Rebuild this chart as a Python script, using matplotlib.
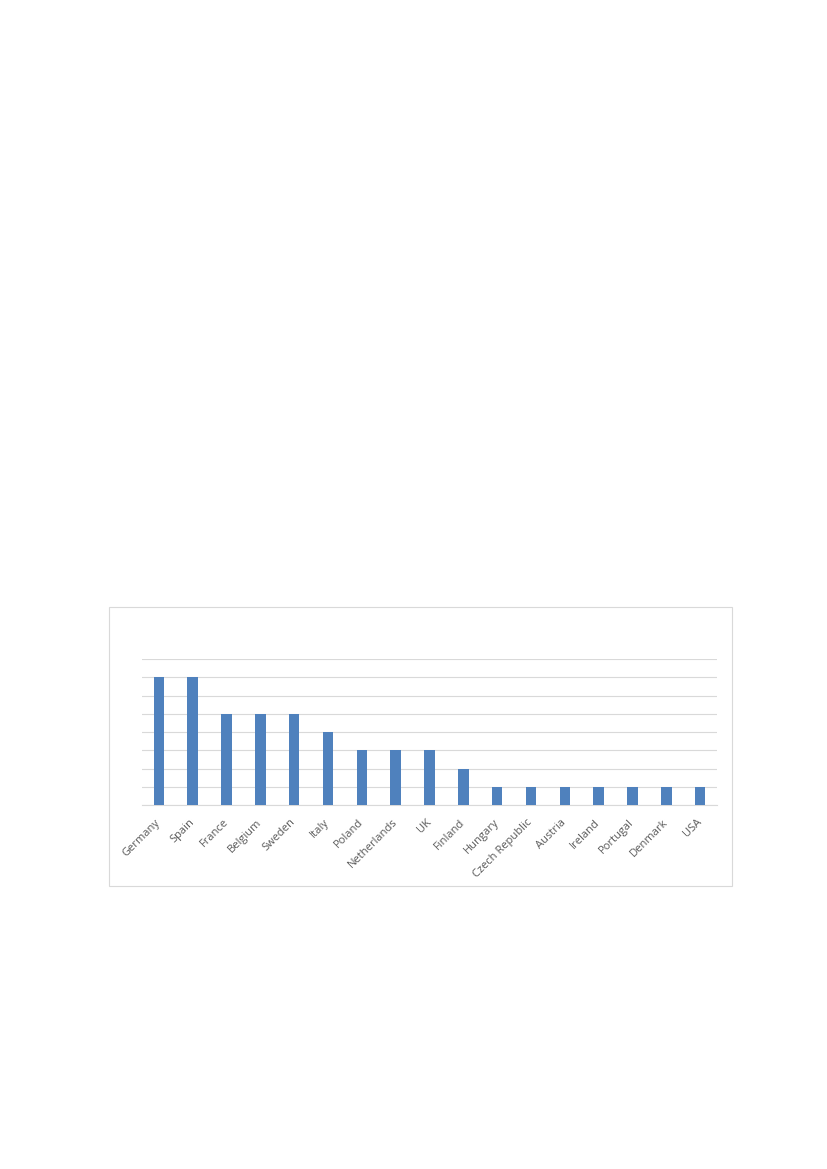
import matplotlib
matplotlib.use("Agg")
import matplotlib.pyplot as plt
import matplotlib.transforms as mtransforms
from matplotlib.patches import Rectangle

# Países y número de casos
countries = [
    "Germany", "Spain", "France", "Belgium", "Sweden", "Italy", "Poland",
    "Netherlands", "UK", "Finland", "Hungary", "Czech Republic", "Austria",
    "Ireland", "Portugal", "Denmark", "USA",
]
counts = [7, 7, 5, 5, 5, 4, 3, 3, 3, 2, 1, 1, 1, 1, 1, 1, 1]
y_max = 8

BAR_COLOR = "#4f81bd"
GRID_COLOR = "#d9d9d9"
TEXT_COLOR = "#595959"

plt.rcParams["font.family"] = ["Open Sans", "DejaVu Sans"]

fig = plt.figure(figsize=(8.27, 11.69), dpi=100)

# marco del gráfico
fig.patches.append(Rectangle((109 / 827, 1 - 886 / 1169), (732 - 109) / 827, (886 - 607) / 1169,
                             transform=fig.transFigure, fill=False, edgecolor=GRID_COLOR, linewidth=0.8))

ax = fig.add_axes([142 / 827, 1 - 805 / 1169, (717 - 142) / 827, (805 - 659) / 1169])
x = list(range(len(countries)))
ax.bar(x, counts, width=0.31, color=BAR_COLOR, zorder=3)

ax.set_xlim(-0.5, len(countries) - 0.5)
ax.set_ylim(0, y_max)
ax.set_yticks(range(0, y_max + 1))
ax.yaxis.grid(True, color=GRID_COLOR, linewidth=0.8, zorder=0)
ax.tick_params(axis="y", left=False, labelleft=False)
ax.tick_params(axis="x", bottom=False, pad=5)
ax.set_xticks(x)
ax.set_xticklabels(countries, rotation=45, ha="right", rotation_mode="anchor",
                   fontsize=8, color=TEXT_COLOR)
shift = mtransforms.ScaledTranslation(-4 / 100, 0, fig.dpi_scale_trans)
for lbl in ax.get_xticklabels():
    lbl.set_transform(lbl.get_transform() + shift)
for side in ["top", "right", "left"]:
    ax.spines[side].set_visible(False)
ax.spines["bottom"].set_color(GRID_COLOR)
ax.spines["bottom"].set_linewidth(0.8)

fig.savefig("out.png", dpi=100)
